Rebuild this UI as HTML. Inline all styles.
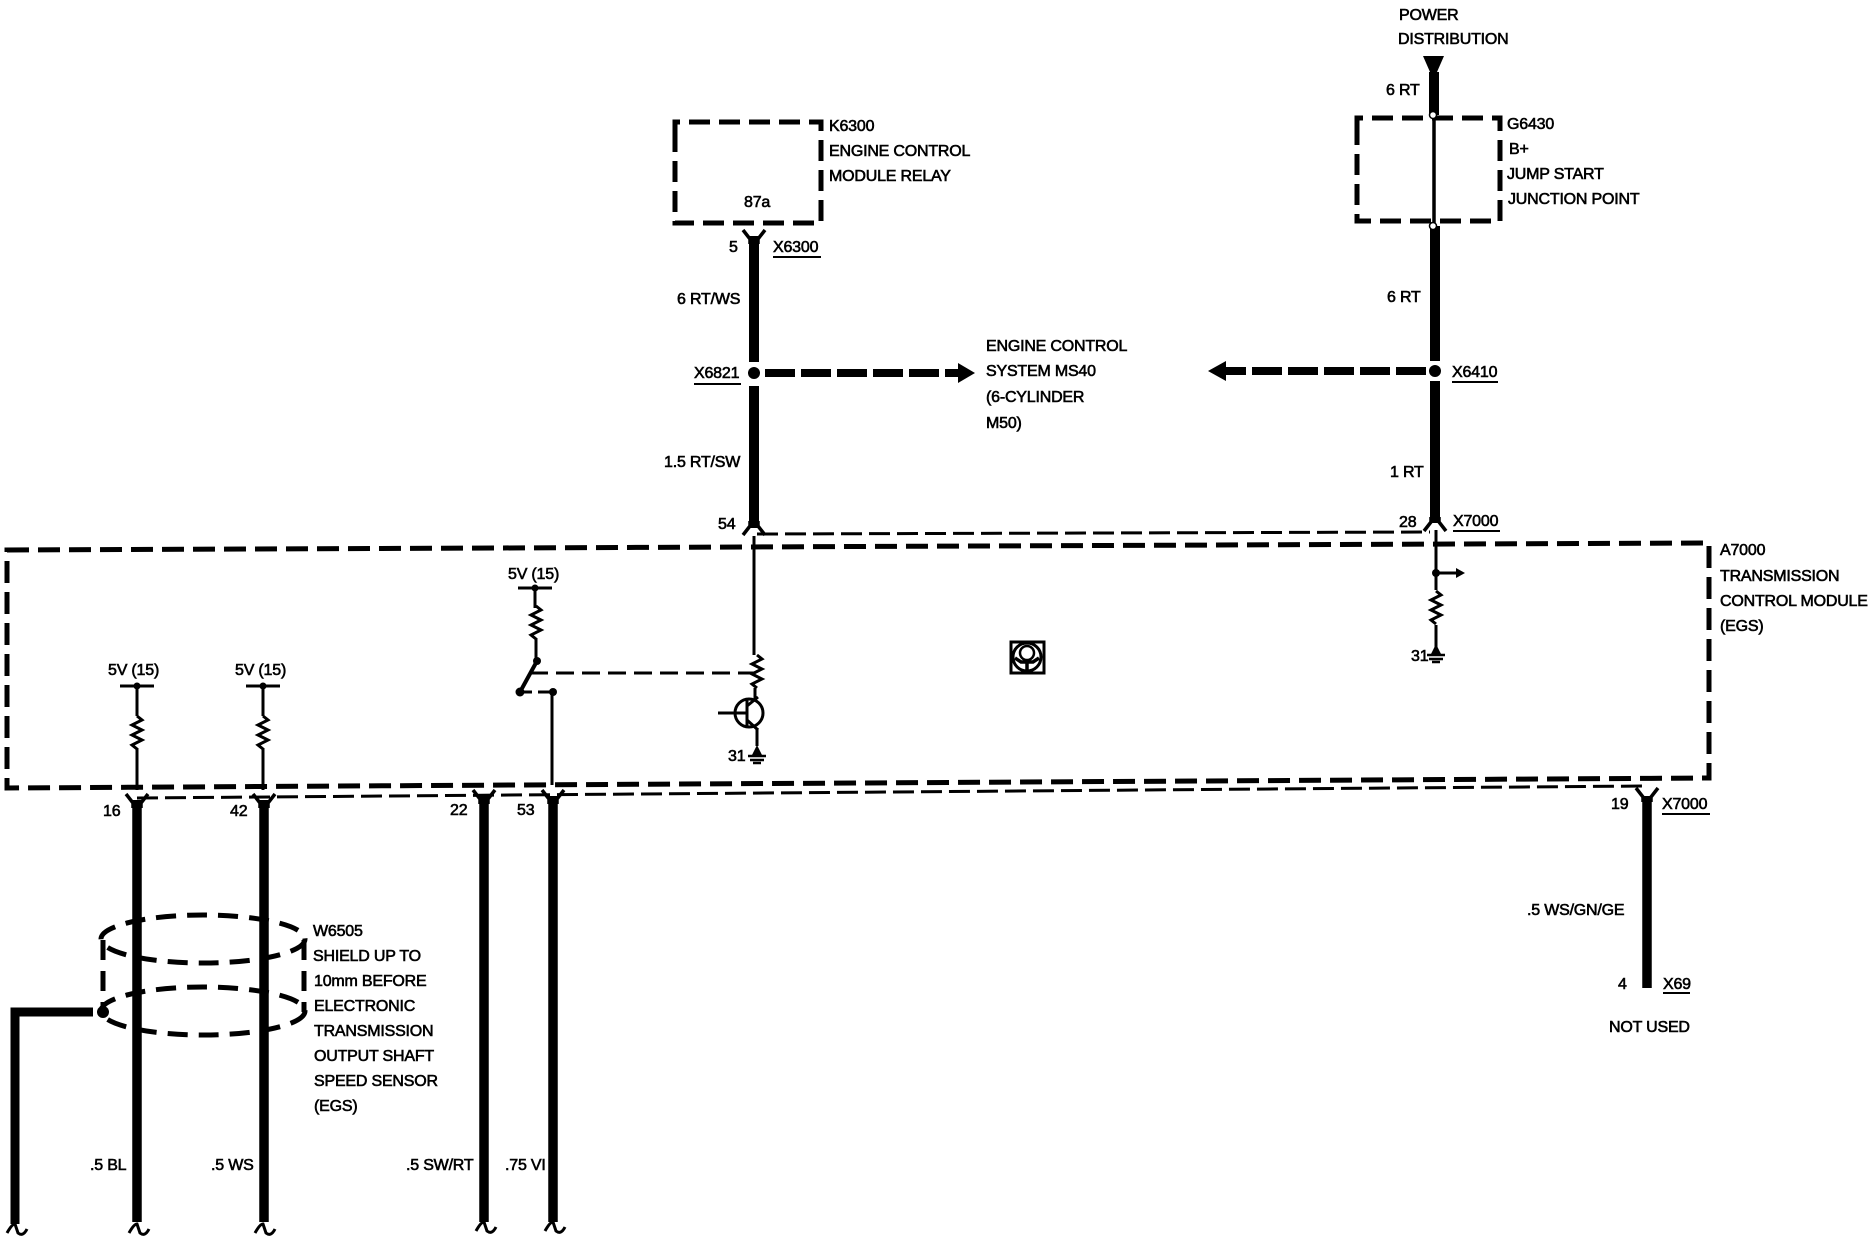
<!DOCTYPE html>
<html><head><meta charset="utf-8"><style>
html,body{margin:0;padding:0;background:#fff}
svg{display:block}
text{font-family:"Liberation Sans",sans-serif;font-size:16px;letter-spacing:-.2px;fill:#000;stroke:#000;stroke-width:.6px}
</style></head><body>
<svg width="1876" height="1248" viewBox="0 0 1876 1248" xmlns="http://www.w3.org/2000/svg">
<defs>
<g id="fork"><path d="M-11 -8L-4 1V6M11 -8L4 1V6" fill="none" stroke="#000" stroke-width="3.5"/></g>
<g id="forkup"><path d="M-11 8L-4 -1V-6M11 8L4 -1V-6" fill="none" stroke="#000" stroke-width="3.5"/></g>
<g id="end"><path d="M-10 6Q-5 -3 -2 -3L1 6Q6 10 10 2" fill="none" stroke="#000" stroke-width="3"/></g>
<g id="res"><path d="M0 0L5 4L-5 9L5 14L-5 19L5 24L-5 29L0 33" fill="none" stroke="#000" stroke-width="3"/></g>
<g id="gnd"><path d="M-5 5L0 -5L5 5Z" fill="#000"/><path d="M-9 6H9M-7 10H7M-4 13H4" stroke="#000" stroke-width="2.4"/></g>
</defs>
<g fill="none" stroke="#000">
<!-- boxes -->
<path d="M675 138V122H821V223H675Z" stroke-width="5" stroke-dasharray="21 9"/>
<path d="M1357 133V118H1500V221H1357Z" stroke-width="5" stroke-dasharray="21 9"/>
<path d="M7 550L1709 543V778L7 788Z" stroke-width="5" stroke-dasharray="22 9"/>
<path d="M757 534L1430 532" stroke-width="3" stroke-dasharray="21 7"/>
<path d="M137 798L1645 786" stroke-width="3" stroke-dasharray="21 7"/>
<!-- main wires -->
<path d="M754 236V362M754 386V528" stroke-width="10"/>
<path d="M1434 72V115" stroke-width="10"/>
<path d="M1434 115V226" stroke-width="3.5"/>
<path d="M1435 226V361M1435 381V523" stroke-width="10"/>
<path d="M137 800V1222M264 800V1222M484 796V1222M553 796V1222M1647 796V988" stroke-width="9.5"/>
<path d="M93 1012H15V1224" stroke-width="9"/>
<path d="M765 373H962" stroke-width="8" stroke-dasharray="30 6"/>
<path d="M1426 371H1224" stroke-width="8" stroke-dasharray="30 6"/>
<!-- thin wires -->
<path d="M754 536V655M755 688V700M757 728V746M1436 530V590M1436 625V648M535 588V608M536 638V661M137 686V716M137 748V790M263 686V716M263 748V790M552 692V785" stroke-width="3"/>
<path d="M518 588H552M120 686H154M246 686H280" stroke-width="3"/>
<path d="M537 661L520 692" stroke-width="4"/>
<path d="M520 692H553" stroke-width="3" stroke-dasharray="12 6"/>
<path d="M530 673H755" stroke-width="3" stroke-dasharray="18 8"/>
<path d="M1436 573H1456" stroke-width="3"/>
<!-- transistor -->
<circle cx="749" cy="713" r="14" stroke-width="3"/>
<path d="M718 713H747M747 699V727M747 706L758 697M747 720L758 730" stroke-width="3"/>
<!-- shield -->
<ellipse cx="203" cy="939" rx="102" ry="24" stroke-width="5" stroke-dasharray="20 11"/>
<ellipse cx="203" cy="1011" rx="102" ry="24" stroke-width="5" stroke-dasharray="20 11"/>
<path d="M103 940V1005M304 940V1012" stroke-width="5" stroke-dasharray="20 11"/>
<!-- underlines -->
<path d="M773 257H821M694 384H741M1452 382H1498M1453 531H1500M1662 814H1710M1663 993H1690" stroke-width="2"/>
<!-- icon -->
<rect x="1011" y="642" width="33" height="31" stroke-width="3"/>
<circle cx="1027" cy="657" r="14" stroke-width="3"/>
<circle cx="1027" cy="653" r="7" stroke-width="2.5"/>
<path d="M1015 658L1021 662H1033L1039 658M1027 662V672" stroke-width="3.5"/>
</g>
<g fill="#000">
<path d="M1423 56H1444L1437 72H1430Z"/>
<path d="M958 363L975 373L958 383Z"/>
<path d="M1208 371L1226 361V381Z"/>
<path d="M1456 568L1465 573L1456 578Z"/>
<circle cx="754" cy="373" r="6"/><circle cx="1435" cy="371" r="6"/>
<circle cx="535" cy="588" r="3.5"/><circle cx="537" cy="661" r="4"/><circle cx="520" cy="692" r="4.5"/><circle cx="553" cy="692" r="4"/>
<circle cx="137" cy="686" r="3.5"/><circle cx="263" cy="686" r="3.5"/><circle cx="1436" cy="573" r="4"/>
<circle cx="103" cy="1012" r="6"/>
</g>
<circle cx="1433" cy="115" r="3.5" fill="#fff" stroke="#000" stroke-width="1.5"/>
<circle cx="1433" cy="226" r="3.5" fill="#fff" stroke="#000" stroke-width="1.5"/>
<use href="#fork" x="754" y="238"/><use href="#forkup" x="754" y="527"/><use href="#forkup" x="1435" y="523"/>
<use href="#fork" x="137" y="802"/><use href="#fork" x="264" y="802"/><use href="#fork" x="484" y="798"/><use href="#fork" x="553" y="798"/><use href="#fork" x="1647" y="796"/>
<use href="#end" x="17" y="1227"/><use href="#end" x="139" y="1227"/><use href="#end" x="265" y="1227"/><use href="#end" x="486" y="1225"/><use href="#end" x="555" y="1225"/>
<use href="#res" x="536" y="606"/><use href="#res" x="757" y="655"/><use href="#res" x="1436" y="591"/><use href="#res" x="137" y="716"/><use href="#res" x="263" y="716"/>
<use href="#gnd" x="757" y="750"/><use href="#gnd" x="1436" y="649"/>
<text x="1399" y="20">POWER</text>
<text x="1398" y="44">DISTRIBUTION</text>
<text x="1386" y="95">6 RT</text>
<text x="1507" y="129">G6430</text>
<text x="1509" y="154">B+</text>
<text x="1507" y="179">JUMP START</text>
<text x="1508" y="204">JUNCTION POINT</text>
<text x="1387" y="302">6 RT</text>
<text x="829" y="131">K6300</text>
<text x="829" y="156">ENGINE CONTROL</text>
<text x="829" y="181">MODULE RELAY</text>
<text x="744" y="207">87a</text>
<text x="729" y="252">5</text>
<text x="773" y="252">X6300</text>
<text x="677" y="304">6 RT/WS</text>
<text x="694" y="378">X6821</text>
<text x="986" y="351">ENGINE CONTROL</text>
<text x="986" y="376">SYSTEM MS40</text>
<text x="986" y="402">(6-CYLINDER</text>
<text x="986" y="428">M50)</text>
<text x="1452" y="377">X6410</text>
<text x="664" y="467">1.5 RT/SW</text>
<text x="1390" y="477">1 RT</text>
<text x="718" y="529">54</text>
<text x="1399" y="527">28</text>
<text x="1453" y="526">X7000</text>
<text x="1720" y="555">A7000</text>
<text x="1720" y="581">TRANSMISSION</text>
<text x="1720" y="606">CONTROL MODULE</text>
<text x="1720" y="631">(EGS)</text>
<text x="508" y="579">5V (15)</text>
<text x="108" y="675">5V (15)</text>
<text x="235" y="675">5V (15)</text>
<text x="728" y="761">31</text>
<text x="1411" y="661">31</text>
<text x="103" y="816">16</text>
<text x="230" y="816">42</text>
<text x="450" y="815">22</text>
<text x="517" y="815">53</text>
<text x="1611" y="809">19</text>
<text x="1662" y="809">X7000</text>
<text x="1527" y="915">.5 WS/GN/GE</text>
<text x="1618" y="989">4</text>
<text x="1663" y="989">X69</text>
<text x="1609" y="1032">NOT USED</text>
<text x="313" y="936">W6505</text>
<text x="313" y="961">SHIELD UP TO</text>
<text x="314" y="986">10mm BEFORE</text>
<text x="314" y="1011">ELECTRONIC</text>
<text x="314" y="1036">TRANSMISSION</text>
<text x="314" y="1061">OUTPUT SHAFT</text>
<text x="314" y="1086">SPEED SENSOR</text>
<text x="314" y="1111">(EGS)</text>
<text x="90" y="1170">.5 BL</text>
<text x="211" y="1170">.5 WS</text>
<text x="406" y="1170">.5 SW/RT</text>
<text x="505" y="1170">.75 VI</text>
</svg>
</body></html>
